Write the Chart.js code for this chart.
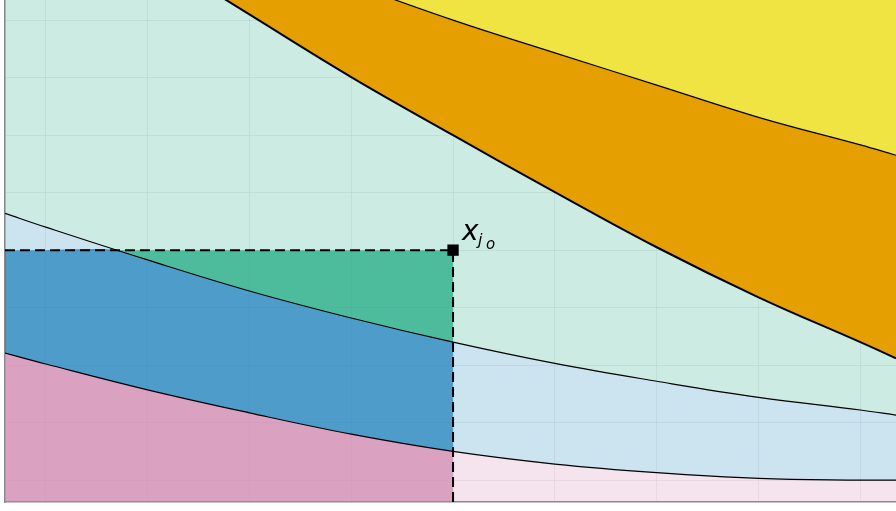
<!DOCTYPE html>
<html>
<head>
<meta charset="utf-8">
<script src="https://cdn.jsdelivr.net/npm/chart.js"></script>
<style>
html,body{margin:0;padding:0;background:#fff}
#wrap{width:896px;height:511px}
</style>
</head>
<body>
<div id="wrap"><canvas id="c"></canvas></div>
<script>
/* ---------- DATA ---------- */
const xVals=[-0.4,0,1,2,3,4,5,6,7,8,8.35];
const lowerCurve=[2.21,2.02,1.57,1.17,0.80,0.50,0.28,0.13,0.03,0.0,0.0];
const middleCurve=[4.64,4.40,3.83,3.29,2.82,2.40,2.03,1.72,1.44,1.22,1.13];
const dashedCurve=[10.8,10.33,9.20,8.10,7.01,6.00,5.01,4.05,3.18,2.40,2.12];
const upperCurve=[11.0,10.71,9.98,9.29,8.63,8.00,7.43,6.87,6.31,5.83,5.65];
// middle curve cut at the optimum level, up to the optimum x
const clipX=[-0.4,0,0.70,1,2,3,4];
const clipMiddle=[4,4,4,3.83,3.29,2.82,2.40];
const optimum={x:4,y:4};
const xRange=[-0.4,8.35], yRange=[-0.38,8.35];

/* ---------- COLORS ---------- */
const PINK="204,121,167",BLUE="0,114,178",GREEN="0,158,115";
const lightA=0.2,darkA=0.625;
const rgba=(c,a)=>`rgba(${c},${a})`;

/* ---------- HELPERS ---------- */
const pts=(xs,ys)=>xs.map((x,i)=>({x,y:ys[i]}));
const leftN=xVals.indexOf(optimum.x)+1;
function curve(data,fill,bg,extra){
  return Object.assign({type:"line",data,fill,backgroundColor:bg,borderColor:"#000",borderWidth:1.2,
    pointRadius:0,tension:0.4,order:10},extra||{});
}

const datasets=[
  curve(pts(xVals,lowerCurve),"start",rgba(PINK,lightA)),                       // 0
  curve(pts(xVals,middleCurve),0,rgba(BLUE,lightA)),                             // 1
  curve(pts(xVals,dashedCurve),1,rgba(GREEN,lightA),{borderWidth:2}),            // 2
  curve(pts(xVals,upperCurve),2,"#E69F00"),                                      // 3
  curve(pts(xVals,upperCurve),"end","#F0E442",{borderWidth:0,order:11}),         // 4
  curve(pts(xVals.slice(0,leftN),lowerCurve.slice(0,leftN)),"start",rgba(PINK,darkA),{borderWidth:0,order:20}), // 5
  curve(pts(clipX,clipMiddle),5,rgba(BLUE,darkA),{borderWidth:0,order:20,tension:0.3}), // 6
  curve([{x:xRange[0],y:optimum.y},{x:optimum.x,y:optimum.y}],6,rgba(GREEN,darkA),{borderWidth:0,order:20}), // 7
  {type:"line",data:[{x:xRange[0],y:optimum.y},{x:optimum.x,y:optimum.y},{x:optimum.x,y:yRange[0]}],
    fill:false,borderColor:"#000",borderWidth:2,borderDash:[10,5],pointRadius:0,tension:0,order:1},
  {type:"scatter",data:[optimum],pointStyle:"rect",pointRadius:8,backgroundColor:"#000",
    borderWidth:0,order:0}
];

/* ---------- LABEL ---------- */
const labelPlugin={id:"optLabel",afterDatasetsDraw(chart){
  const {ctx,scales:{x,y}}=chart;
  const px=x.getPixelForValue(optimum.x),py=y.getPixelForValue(optimum.y);
  ctx.save();ctx.fillStyle="#000";ctx.textBaseline="alphabetic";
  ctx.font='italic 28px "DejaVu Sans"';ctx.fillText("x",px+9,py-10);
  ctx.font='italic 16px "DejaVu Sans"';ctx.fillText("j",px+25,py-5);
  ctx.font='italic 15px "DejaVu Sans"';ctx.fillText("o",px+33,py-1);
  ctx.restore();
}};

/* ---------- CHART ---------- */
const axis=(r)=>({type:"linear",min:r[0],max:r[1],
  ticks:{display:false,stepSize:1,includeBounds:false},
  grid:{color:"rgba(0,0,0,0.06)",lineWidth:1,drawTicks:false},
  border:{display:true,color:"#888",width:1.5}});

new Chart(document.getElementById("c"),{
  data:{datasets},
  options:{responsive:true,maintainAspectRatio:false,animation:false,
    layout:{autoPadding:false,padding:{left:5,right:0,top:0,bottom:9}},
    plugins:{legend:{display:false},tooltip:{enabled:false}},
    scales:{x:axis(xRange),y:axis(yRange)}},
  plugins:[labelPlugin]
});
</script>
</body>
</html>
